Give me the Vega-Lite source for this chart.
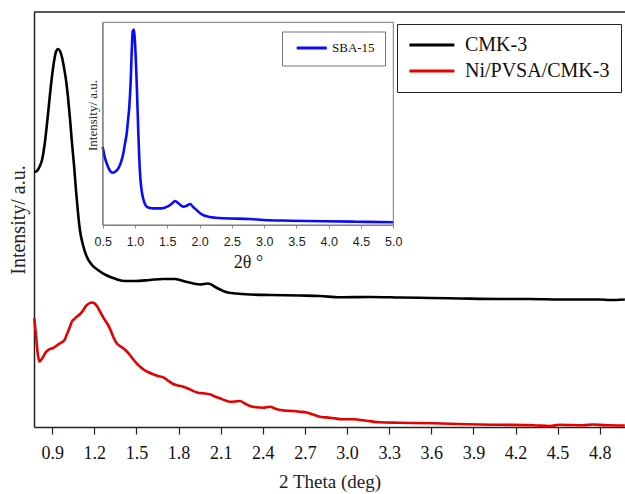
{
  "$schema": "https://vega.github.io/schema/vega-lite/v6.json",
  "autosize": {"type": "none"},
  "padding": {"left": 34, "top": 12, "right": 0, "bottom": 67},
  "width": 591,
  "height": 415,
  "background": "white",
  "config": {"view": {"stroke": null}, "font": "Liberation Serif", "legend": {"labelFont": "Liberation Serif"}},
  "datasets": {
    "main": [
      {"sample": "CMK-3", "two_theta": 0.772, "intensity": 255},
      {"sample": "CMK-3", "two_theta": 0.791, "intensity": 256},
      {"sample": "CMK-3", "two_theta": 0.812, "intensity": 261},
      {"sample": "CMK-3", "two_theta": 0.827, "intensity": 267},
      {"sample": "CMK-3", "two_theta": 0.848, "intensity": 285},
      {"sample": "CMK-3", "two_theta": 0.869, "intensity": 312},
      {"sample": "CMK-3", "two_theta": 0.891, "intensity": 342},
      {"sample": "CMK-3", "two_theta": 0.912, "intensity": 365},
      {"sample": "CMK-3", "two_theta": 0.926, "intensity": 375},
      {"sample": "CMK-3", "two_theta": 0.941, "intensity": 378},
      {"sample": "CMK-3", "two_theta": 0.955, "intensity": 376},
      {"sample": "CMK-3", "two_theta": 0.969, "intensity": 370},
      {"sample": "CMK-3", "two_theta": 0.983, "intensity": 360},
      {"sample": "CMK-3", "two_theta": 0.998, "intensity": 347},
      {"sample": "CMK-3", "two_theta": 1.012, "intensity": 330},
      {"sample": "CMK-3", "two_theta": 1.026, "intensity": 309},
      {"sample": "CMK-3", "two_theta": 1.040, "intensity": 285},
      {"sample": "CMK-3", "two_theta": 1.055, "intensity": 262},
      {"sample": "CMK-3", "two_theta": 1.069, "intensity": 237},
      {"sample": "CMK-3", "two_theta": 1.083, "intensity": 215},
      {"sample": "CMK-3", "two_theta": 1.097, "intensity": 197},
      {"sample": "CMK-3", "two_theta": 1.119, "intensity": 182},
      {"sample": "CMK-3", "two_theta": 1.147, "intensity": 170},
      {"sample": "CMK-3", "two_theta": 1.183, "intensity": 162},
      {"sample": "CMK-3", "two_theta": 1.225, "intensity": 157},
      {"sample": "CMK-3", "two_theta": 1.282, "intensity": 152},
      {"sample": "CMK-3", "two_theta": 1.354, "intensity": 148},
      {"sample": "CMK-3", "two_theta": 1.418, "intensity": 146},
      {"sample": "CMK-3", "two_theta": 1.489, "intensity": 146},
      {"sample": "CMK-3", "two_theta": 1.596, "intensity": 147},
      {"sample": "CMK-3", "two_theta": 1.688, "intensity": 148},
      {"sample": "CMK-3", "two_theta": 1.774, "intensity": 148},
      {"sample": "CMK-3", "two_theta": 1.859, "intensity": 145},
      {"sample": "CMK-3", "two_theta": 1.952, "intensity": 142.5},
      {"sample": "CMK-3", "two_theta": 2.009, "intensity": 143.5},
      {"sample": "CMK-3", "two_theta": 2.074, "intensity": 139},
      {"sample": "CMK-3", "two_theta": 2.137, "intensity": 135},
      {"sample": "CMK-3", "two_theta": 2.209, "intensity": 133.5},
      {"sample": "CMK-3", "two_theta": 2.308, "intensity": 132.5},
      {"sample": "CMK-3", "two_theta": 2.451, "intensity": 132},
      {"sample": "CMK-3", "two_theta": 2.664, "intensity": 131.5},
      {"sample": "CMK-3", "two_theta": 2.807, "intensity": 131},
      {"sample": "CMK-3", "two_theta": 2.949, "intensity": 129.7},
      {"sample": "CMK-3", "two_theta": 3.163, "intensity": 130},
      {"sample": "CMK-3", "two_theta": 3.377, "intensity": 129.5},
      {"sample": "CMK-3", "two_theta": 3.590, "intensity": 129},
      {"sample": "CMK-3", "two_theta": 3.804, "intensity": 128.5},
      {"sample": "CMK-3", "two_theta": 4.089, "intensity": 128},
      {"sample": "CMK-3", "two_theta": 4.303, "intensity": 128},
      {"sample": "CMK-3", "two_theta": 4.516, "intensity": 127.5},
      {"sample": "CMK-3", "two_theta": 4.801, "intensity": 127.5},
      {"sample": "CMK-3", "two_theta": 4.872, "intensity": 127},
      {"sample": "CMK-3", "two_theta": 4.979, "intensity": 127.5},
      {"sample": "Ni/PVSA/CMK-3", "two_theta": 0.772, "intensity": 108.7},
      {"sample": "Ni/PVSA/CMK-3", "two_theta": 0.784, "intensity": 92},
      {"sample": "Ni/PVSA/CMK-3", "two_theta": 0.798, "intensity": 72},
      {"sample": "Ni/PVSA/CMK-3", "two_theta": 0.809, "intensity": 65.5},
      {"sample": "Ni/PVSA/CMK-3", "two_theta": 0.820, "intensity": 67},
      {"sample": "Ni/PVSA/CMK-3", "two_theta": 0.836, "intensity": 70.3},
      {"sample": "Ni/PVSA/CMK-3", "two_theta": 0.855, "intensity": 75},
      {"sample": "Ni/PVSA/CMK-3", "two_theta": 0.879, "intensity": 77.7},
      {"sample": "Ni/PVSA/CMK-3", "two_theta": 0.907, "intensity": 79},
      {"sample": "Ni/PVSA/CMK-3", "two_theta": 0.933, "intensity": 81.5},
      {"sample": "Ni/PVSA/CMK-3", "two_theta": 0.955, "intensity": 83.7},
      {"sample": "Ni/PVSA/CMK-3", "two_theta": 0.976, "intensity": 85.5},
      {"sample": "Ni/PVSA/CMK-3", "two_theta": 0.990, "intensity": 87.7},
      {"sample": "Ni/PVSA/CMK-3", "two_theta": 1.005, "intensity": 93},
      {"sample": "Ni/PVSA/CMK-3", "two_theta": 1.026, "intensity": 100.3},
      {"sample": "Ni/PVSA/CMK-3", "two_theta": 1.040, "intensity": 105.5},
      {"sample": "Ni/PVSA/CMK-3", "two_theta": 1.055, "intensity": 107.7},
      {"sample": "Ni/PVSA/CMK-3", "two_theta": 1.076, "intensity": 110.5},
      {"sample": "Ni/PVSA/CMK-3", "two_theta": 1.097, "intensity": 112.7},
      {"sample": "Ni/PVSA/CMK-3", "two_theta": 1.119, "intensity": 116.5},
      {"sample": "Ni/PVSA/CMK-3", "two_theta": 1.140, "intensity": 121},
      {"sample": "Ni/PVSA/CMK-3", "two_theta": 1.161, "intensity": 123.5},
      {"sample": "Ni/PVSA/CMK-3", "two_theta": 1.183, "intensity": 124.5},
      {"sample": "Ni/PVSA/CMK-3", "two_theta": 1.201, "intensity": 123.7},
      {"sample": "Ni/PVSA/CMK-3", "two_theta": 1.218, "intensity": 121},
      {"sample": "Ni/PVSA/CMK-3", "two_theta": 1.240, "intensity": 115.5},
      {"sample": "Ni/PVSA/CMK-3", "two_theta": 1.263, "intensity": 109.7},
      {"sample": "Ni/PVSA/CMK-3", "two_theta": 1.282, "intensity": 105.5},
      {"sample": "Ni/PVSA/CMK-3", "two_theta": 1.298, "intensity": 102},
      {"sample": "Ni/PVSA/CMK-3", "two_theta": 1.318, "intensity": 96},
      {"sample": "Ni/PVSA/CMK-3", "two_theta": 1.334, "intensity": 90.3},
      {"sample": "Ni/PVSA/CMK-3", "two_theta": 1.359, "intensity": 83.7},
      {"sample": "Ni/PVSA/CMK-3", "two_theta": 1.382, "intensity": 81},
      {"sample": "Ni/PVSA/CMK-3", "two_theta": 1.406, "intensity": 78.7},
      {"sample": "Ni/PVSA/CMK-3", "two_theta": 1.432, "intensity": 75.5},
      {"sample": "Ni/PVSA/CMK-3", "two_theta": 1.453, "intensity": 72},
      {"sample": "Ni/PVSA/CMK-3", "two_theta": 1.475, "intensity": 68},
      {"sample": "Ni/PVSA/CMK-3", "two_theta": 1.501, "intensity": 63.7},
      {"sample": "Ni/PVSA/CMK-3", "two_theta": 1.525, "intensity": 60.5},
      {"sample": "Ni/PVSA/CMK-3", "two_theta": 1.548, "intensity": 57.7},
      {"sample": "Ni/PVSA/CMK-3", "two_theta": 1.582, "intensity": 55},
      {"sample": "Ni/PVSA/CMK-3", "two_theta": 1.619, "intensity": 52.7},
      {"sample": "Ni/PVSA/CMK-3", "two_theta": 1.653, "intensity": 51},
      {"sample": "Ni/PVSA/CMK-3", "two_theta": 1.691, "intensity": 49.7},
      {"sample": "Ni/PVSA/CMK-3", "two_theta": 1.724, "intensity": 46.5},
      {"sample": "Ni/PVSA/CMK-3", "two_theta": 1.762, "intensity": 43},
      {"sample": "Ni/PVSA/CMK-3", "two_theta": 1.795, "intensity": 41.5},
      {"sample": "Ni/PVSA/CMK-3", "two_theta": 1.833, "intensity": 40.3},
      {"sample": "Ni/PVSA/CMK-3", "two_theta": 1.867, "intensity": 38.5},
      {"sample": "Ni/PVSA/CMK-3", "two_theta": 1.904, "intensity": 36},
      {"sample": "Ni/PVSA/CMK-3", "two_theta": 1.938, "intensity": 34.3},
      {"sample": "Ni/PVSA/CMK-3", "two_theta": 1.976, "intensity": 33.7},
      {"sample": "Ni/PVSA/CMK-3", "two_theta": 2.023, "intensity": 32.7},
      {"sample": "Ni/PVSA/CMK-3", "two_theta": 2.059, "intensity": 30.5},
      {"sample": "Ni/PVSA/CMK-3", "two_theta": 2.094, "intensity": 28.7},
      {"sample": "Ni/PVSA/CMK-3", "two_theta": 2.130, "intensity": 26.7},
      {"sample": "Ni/PVSA/CMK-3", "two_theta": 2.166, "intensity": 25.3},
      {"sample": "Ni/PVSA/CMK-3", "two_theta": 2.201, "intensity": 25.5},
      {"sample": "Ni/PVSA/CMK-3", "two_theta": 2.237, "intensity": 26},
      {"sample": "Ni/PVSA/CMK-3", "two_theta": 2.272, "intensity": 23.5},
      {"sample": "Ni/PVSA/CMK-3", "two_theta": 2.308, "intensity": 21},
      {"sample": "Ni/PVSA/CMK-3", "two_theta": 2.351, "intensity": 19.7},
      {"sample": "Ni/PVSA/CMK-3", "two_theta": 2.403, "intensity": 19.3},
      {"sample": "Ni/PVSA/CMK-3", "two_theta": 2.451, "intensity": 20.3},
      {"sample": "Ni/PVSA/CMK-3", "two_theta": 2.486, "intensity": 18.5},
      {"sample": "Ni/PVSA/CMK-3", "two_theta": 2.522, "intensity": 17},
      {"sample": "Ni/PVSA/CMK-3", "two_theta": 2.572, "intensity": 16.3},
      {"sample": "Ni/PVSA/CMK-3", "two_theta": 2.617, "intensity": 16},
      {"sample": "Ni/PVSA/CMK-3", "two_theta": 2.664, "intensity": 15.3},
      {"sample": "Ni/PVSA/CMK-3", "two_theta": 2.712, "intensity": 14.5},
      {"sample": "Ni/PVSA/CMK-3", "two_theta": 2.757, "intensity": 12.5},
      {"sample": "Ni/PVSA/CMK-3", "two_theta": 2.807, "intensity": 10.3},
      {"sample": "Ni/PVSA/CMK-3", "two_theta": 2.878, "intensity": 9.3},
      {"sample": "Ni/PVSA/CMK-3", "two_theta": 2.973, "intensity": 7.7},
      {"sample": "Ni/PVSA/CMK-3", "two_theta": 3.044, "intensity": 7.7},
      {"sample": "Ni/PVSA/CMK-3", "two_theta": 3.139, "intensity": 6.3},
      {"sample": "Ni/PVSA/CMK-3", "two_theta": 3.234, "intensity": 4.7},
      {"sample": "Ni/PVSA/CMK-3", "two_theta": 3.376, "intensity": 4.3},
      {"sample": "Ni/PVSA/CMK-3", "two_theta": 3.614, "intensity": 3.7},
      {"sample": "Ni/PVSA/CMK-3", "two_theta": 3.852, "intensity": 2.7},
      {"sample": "Ni/PVSA/CMK-3", "two_theta": 4.089, "intensity": 2.2},
      {"sample": "Ni/PVSA/CMK-3", "two_theta": 4.326, "intensity": 1.8},
      {"sample": "Ni/PVSA/CMK-3", "two_theta": 4.445, "intensity": 1},
      {"sample": "Ni/PVSA/CMK-3", "two_theta": 4.516, "intensity": 2.2},
      {"sample": "Ni/PVSA/CMK-3", "two_theta": 4.680, "intensity": 1.7},
      {"sample": "Ni/PVSA/CMK-3", "two_theta": 4.751, "intensity": 2.5},
      {"sample": "Ni/PVSA/CMK-3", "two_theta": 4.850, "intensity": 1.7},
      {"sample": "Ni/PVSA/CMK-3", "two_theta": 4.979, "intensity": 1.5}
    ],
    "inset": [
      {"sample": "SBA-15", "two_theta": 0.500, "intensity": 78.3},
      {"sample": "SBA-15", "two_theta": 0.528, "intensity": 69},
      {"sample": "SBA-15", "two_theta": 0.562, "intensity": 61.7},
      {"sample": "SBA-15", "two_theta": 0.598, "intensity": 56},
      {"sample": "SBA-15", "two_theta": 0.655, "intensity": 52.3},
      {"sample": "SBA-15", "two_theta": 0.698, "intensity": 53.5},
      {"sample": "SBA-15", "two_theta": 0.742, "intensity": 56.7},
      {"sample": "SBA-15", "two_theta": 0.784, "intensity": 63},
      {"sample": "SBA-15", "two_theta": 0.819, "intensity": 71.7},
      {"sample": "SBA-15", "two_theta": 0.846, "intensity": 82},
      {"sample": "SBA-15", "two_theta": 0.872, "intensity": 91.7},
      {"sample": "SBA-15", "two_theta": 0.892, "intensity": 105},
      {"sample": "SBA-15", "two_theta": 0.912, "intensity": 118.3},
      {"sample": "SBA-15", "two_theta": 0.934, "intensity": 145},
      {"sample": "SBA-15", "two_theta": 0.950, "intensity": 175},
      {"sample": "SBA-15", "two_theta": 0.965, "intensity": 194},
      {"sample": "SBA-15", "two_theta": 0.981, "intensity": 195.7},
      {"sample": "SBA-15", "two_theta": 0.991, "intensity": 191},
      {"sample": "SBA-15", "two_theta": 1.001, "intensity": 181.7},
      {"sample": "SBA-15", "two_theta": 1.027, "intensity": 141.7},
      {"sample": "SBA-15", "two_theta": 1.052, "intensity": 91.7},
      {"sample": "SBA-15", "two_theta": 1.078, "intensity": 51.7},
      {"sample": "SBA-15", "two_theta": 1.098, "intensity": 37},
      {"sample": "SBA-15", "two_theta": 1.120, "intensity": 28.3},
      {"sample": "SBA-15", "two_theta": 1.148, "intensity": 22},
      {"sample": "SBA-15", "two_theta": 1.182, "intensity": 18.3},
      {"sample": "SBA-15", "two_theta": 1.233, "intensity": 17},
      {"sample": "SBA-15", "two_theta": 1.284, "intensity": 16.7},
      {"sample": "SBA-15", "two_theta": 1.415, "intensity": 16.7},
      {"sample": "SBA-15", "two_theta": 1.517, "intensity": 19},
      {"sample": "SBA-15", "two_theta": 1.574, "intensity": 21.5},
      {"sample": "SBA-15", "two_theta": 1.621, "intensity": 24},
      {"sample": "SBA-15", "two_theta": 1.672, "intensity": 21.7},
      {"sample": "SBA-15", "two_theta": 1.714, "intensity": 19.5},
      {"sample": "SBA-15", "two_theta": 1.750, "intensity": 18.3},
      {"sample": "SBA-15", "two_theta": 1.807, "intensity": 19.5},
      {"sample": "SBA-15", "two_theta": 1.853, "intensity": 21},
      {"sample": "SBA-15", "two_theta": 1.905, "intensity": 17.7},
      {"sample": "SBA-15", "two_theta": 1.962, "intensity": 14.5},
      {"sample": "SBA-15", "two_theta": 2.009, "intensity": 11.7},
      {"sample": "SBA-15", "two_theta": 2.071, "intensity": 9.5},
      {"sample": "SBA-15", "two_theta": 2.137, "intensity": 8.3},
      {"sample": "SBA-15", "two_theta": 2.241, "intensity": 7.3},
      {"sample": "SBA-15", "two_theta": 2.370, "intensity": 6.7},
      {"sample": "SBA-15", "two_theta": 2.784, "intensity": 6},
      {"sample": "SBA-15", "two_theta": 2.990, "intensity": 5},
      {"sample": "SBA-15", "two_theta": 3.404, "intensity": 4.3},
      {"sample": "SBA-15", "two_theta": 3.920, "intensity": 3.7},
      {"sample": "SBA-15", "two_theta": 4.438, "intensity": 3.3},
      {"sample": "SBA-15", "two_theta": 5.000, "intensity": 2.7}
    ]
  },
  "layer": [
    {
      "data": {"name": "main"},
      "mark": {"type": "line", "strokeWidth": 2.6, "interpolate": "monotone"},
      "encoding": {
        "x": {
          "field": "two_theta", "type": "quantitative",
          "scale": {"domain": [0.77, 4.98], "nice": false, "zero": false},
          "axis": {
            "orient": "bottom",
            "values": [0.9, 1.2, 1.5, 1.8, 2.1, 2.4, 2.7, 3.0, 3.3, 3.6, 3.9, 4.2, 4.5, 4.8],
            "format": ".1f",
            "title": "2 Theta (deg)",
            "titleFont": "Liberation Serif", "titleFontSize": 19, "titleFontWeight": "normal", "titleColor": "#222",
            "labelFont": "Liberation Serif", "labelFontSize": 18, "labelColor": "#111",
            "tickSize": 7, "tickColor": "#222", "tickWidth": 1.2,
            "domainColor": "#222", "domainWidth": 1.5,
            "labelPadding": 10, "titlePadding": 10,
            "grid": false, "labelFlush": false, "labelOverlap": false
          }
        },
        "y": {
          "field": "intensity", "type": "quantitative",
          "scale": {"domain": [0, 415], "nice": false, "zero": false},
          "axis": {
            "orient": "left",
            "title": "Intensity/ a.u.",
            "labels": false, "ticks": false, "grid": false,
            "domainColor": "#222", "domainWidth": 1.5,
            "titleFont": "Liberation Serif", "titleFontSize": 20, "titleFontWeight": "normal", "titleColor": "#222",
            "titlePadding": 6, "minExtent": 0, "maxExtent": 0
          }
        },
        "color": {
          "field": "sample", "type": "nominal",
          "scale": {"domain": ["CMK-3", "Ni/PVSA/CMK-3"], "range": ["#000000", "#e60000"]},
          "legend": {
            "orient": "none", "legendX": 363, "legendY": 12, "title": null,
            "symbolType": "M-1,0H7", "symbolSize": 126.6, "symbolStrokeWidth": 3, "symbolOffset": -3,
            "labelFont": "Liberation Serif", "labelFontSize": 20, "labelColor": "#111",
            "labelOffset": 40, "labelLimit": 400,
            "padding": 11, "rowPadding": 6,
            "strokeColor": "#222", "fillColor": "white"
          }
        }
      }
    },
    {
      "data": {"values": [{}]},
      "mark": {"type": "rule", "color": "#222", "strokeWidth": 1.5},
      "encoding": {
        "y": {"datum": 415, "type": "quantitative", "scale": {"domain": [0, 415], "nice": false, "zero": false}, "axis": null}
      }
    },
    {
      "data": {"name": "inset"},
      "mark": {"type": "line", "strokeWidth": 2.6, "interpolate": "monotone"},
      "encoding": {
        "x": {
          "field": "two_theta", "type": "quantitative",
          "scale": {"domain": [0.5, 5.0], "range": [68.7, 359.3], "nice": false, "zero": false},
          "axis": {
            "orient": "bottom", "offset": -202,
            "values": [0.5, 1.0, 1.5, 2.0, 2.5, 3.0, 3.5, 4.0, 4.5, 5.0],
            "format": ".1f",
            "title": "2θ °",
            "titleFont": "Liberation Serif", "titleFontSize": 18, "titleFontWeight": "normal", "titleColor": "#222",
            "labelFont": "Liberation Sans", "labelFontSize": 12.5, "labelColor": "#222",
            "tickSize": 3, "tickColor": "#888",
            "domainColor": "#888",
            "labelPadding": 7, "titlePadding": 6,
            "grid": false, "labelFlush": false, "labelOverlap": false
          }
        },
        "y": {
          "field": "intensity", "type": "quantitative",
          "scale": {"domain": [0, 203], "range": [213, 10.3], "nice": false, "zero": false},
          "axis": {
            "orient": "left", "offset": -68.7,
            "title": "Intensity/ a.u.",
            "labels": false, "ticks": false, "grid": false,
            "domainColor": "#888",
            "titleFont": "Liberation Serif", "titleFontSize": 13, "titleFontWeight": "normal", "titleColor": "#222",
            "titlePadding": 3, "minExtent": 0, "maxExtent": 0,
            "titleY": 103
          }
        },
        "stroke": {
          "field": "sample", "type": "nominal",
          "scale": {"domain": ["SBA-15"], "range": ["#0a0aff"]},
          "legend": {
            "orient": "none", "legendX": 248, "legendY": 19.5, "title": null,
            "symbolType": "M-1,0H7", "symbolSize": 56.25, "symbolStrokeWidth": 3, "symbolOffset": 2,
            "labelFont": "Liberation Serif", "labelFontSize": 13, "labelColor": "#111",
            "labelOffset": 25, "labelLimit": 300,
            "padding": 10,
            "strokeColor": "#777", "fillColor": "white"
          }
        }
      }
    },
    {
      "data": {"values": [{}]},
      "mark": {"type": "rect", "stroke": "#777", "strokeWidth": 1, "fillOpacity": 0},
      "encoding": {
        "x": {"datum": 0.5, "type": "quantitative", "scale": {"domain": [0.5, 5.0], "range": [68.7, 359.3], "nice": false, "zero": false}, "axis": null},
        "x2": {"datum": 5.0},
        "y": {"datum": 0, "type": "quantitative", "scale": {"domain": [0, 203], "range": [213, 10.3], "nice": false, "zero": false}, "axis": null},
        "y2": {"datum": 203}
      }
    }
  ],
  "resolve": {
    "scale": {"x": "independent", "y": "independent"},
    "axis": {"x": "independent", "y": "independent"}
  }
}
